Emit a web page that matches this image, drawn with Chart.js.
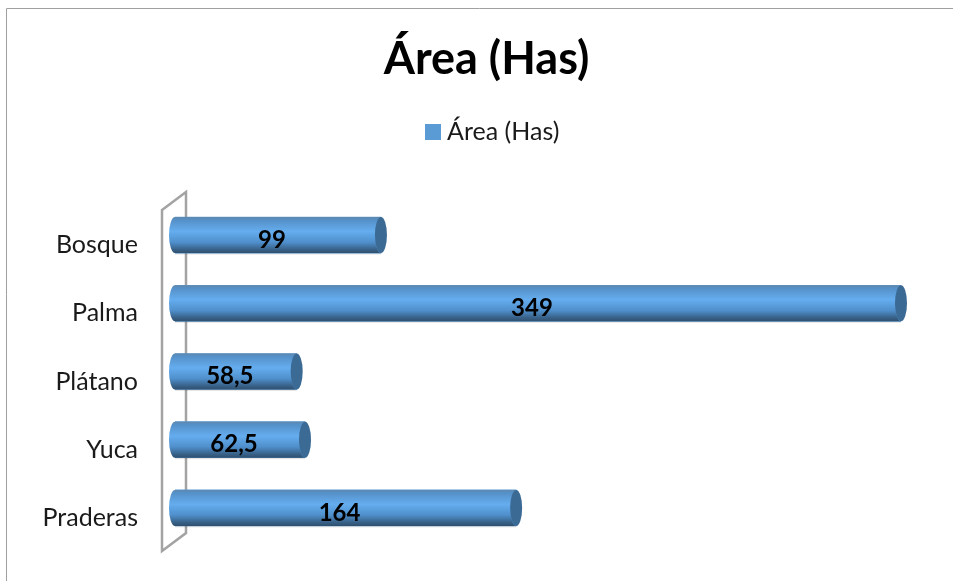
<!DOCTYPE html>
<html><head><meta charset="utf-8">
<style>html,body{margin:0;padding:0;background:#fff}#w{width:953px;height:581px;position:relative}</style>
<script src="https://cdn.jsdelivr.net/npm/chart.js@4"></script>
</head><body><div id="w"><canvas id="c"></canvas></div>
<script>
const titleText = 'Área (Has)';
const seriesName = 'Área (Has)';
const categories = ['Bosque','Palma','Plátano','Yuca','Praderas'];
const values = [99,349,58.5,62.5,164];
const valueLabels = ['99','349','58,5','62,5','164'];
const FONT = 'Lato, "Open Sans", sans-serif';

const swatch = document.createElement('canvas');
swatch.width = 16; swatch.height = 16;
{const s = swatch.getContext('2d'); s.fillStyle = '#5b9bd5'; s.fillRect(0,0,16,16);}

const frame = {id:'frame',
  afterLayout(ch){ch.legend.left += 8.5; ch.legend.right += 8.5; ch.scales.y.left = 0;},
  beforeDraw(ch){
    const c=ch.ctx;c.save();c.strokeStyle='#a0a0a0';c.lineWidth=1;
    c.beginPath();c.moveTo(6.5,581);c.lineTo(6.5,8.5);c.lineTo(953,8.5);c.stroke();c.restore();
  }};
const wall = {id:'wall',beforeDatasetsDraw(ch){
  const c=ch.ctx,a=ch.chartArea,x0=ch.scales.x.getPixelForValue(0);
  c.save();c.strokeStyle='#a3a3a3';c.lineWidth=2.5;c.lineJoin='miter';
  c.beginPath();
  c.moveTo(x0-13,a.top+9);c.lineTo(x0+11,a.top-9);c.lineTo(x0+11,a.bottom-9);c.lineTo(x0-13,a.bottom+9);c.closePath();
  c.stroke();c.restore();
}};
const cyl = {id:'cyl',afterDatasetsDraw(ch){
  const c=ch.ctx,bars=ch.getDatasetMeta(0).data,rx=6;
  bars.forEach((b,i)=>{
    const h=b.height,t=b.y-h/2,ry=h/2,xs=b.base,xe=b.x;
    const g=c.createLinearGradient(0,t,0,t+h);
    g.addColorStop(0,'#5f88ad');g.addColorStop(.08,'#5590c8');g.addColorStop(.4,'#65adef');
    g.addColorStop(.7,'#4f8fcb');g.addColorStop(.9,'#386188');g.addColorStop(1,'#2f506f');
    c.save();
    c.fillStyle='rgba(0,0,0,.10)';c.fillRect(xs,t+h,xe-xs,1.5);
    c.fillStyle=g;c.beginPath();
    c.moveTo(xe,t);c.lineTo(xs,t);c.ellipse(xs,b.y,rx,ry,0,-Math.PI/2,-Math.PI*1.5,true);
    c.lineTo(xe,t+h);c.ellipse(xe,b.y,rx,ry,0,Math.PI/2,-Math.PI/2,false);
    c.closePath();c.fill();
    c.fillStyle='#3b6a94';c.beginPath();c.ellipse(xe,b.y,rx,ry,0,0,Math.PI*2);c.fill();
    c.fillStyle='#000';c.font='bold 24px '+FONT;c.textAlign='center';c.textBaseline='middle';
    c.fillText(valueLabels[i],(xs+xe)/2-6,b.y+5);
    c.restore();
  });
}};
new Chart(document.getElementById('c'),{
  type:'bar',
  data:{labels:categories,datasets:[{label:seriesName,data:values,backgroundColor:'#5b9bd5',barThickness:36}]},
  plugins:[frame,wall,cyl],
  options:{
    indexAxis:'y',responsive:true,maintainAspectRatio:false,animation:false,
    layout:{padding:{top:32,right:52,bottom:39,left:72}},
    plugins:{
      title:{display:true,text:titleText,color:'#000',font:{family:FONT,size:45,weight:'bold'},padding:{top:0,bottom:23}},
      legend:{position:'top',labels:{color:'#1a1a1a',font:{family:FONT,size:25},usePointStyle:true,pointStyle:swatch,pointStyleWidth:4,boxHeight:4,padding:10}},
      tooltip:{enabled:false}
    },
    scales:{
      x:{position:'top',min:0,max:349,
        afterFit(s){s.height=47;},
        border:{display:false},grid:{display:false},ticks:{display:false}},
      y:{
        afterFit(s){s.width=103;s.paddingTop=0;s.paddingBottom=0;},
        border:{display:false},grid:{display:false,drawTicks:false},
        ticks:{color:'#1a1a1a',font:{family:FONT,size:25},padding:37,labelOffset:10}
      }
    }
  }
});
</script></body></html>
